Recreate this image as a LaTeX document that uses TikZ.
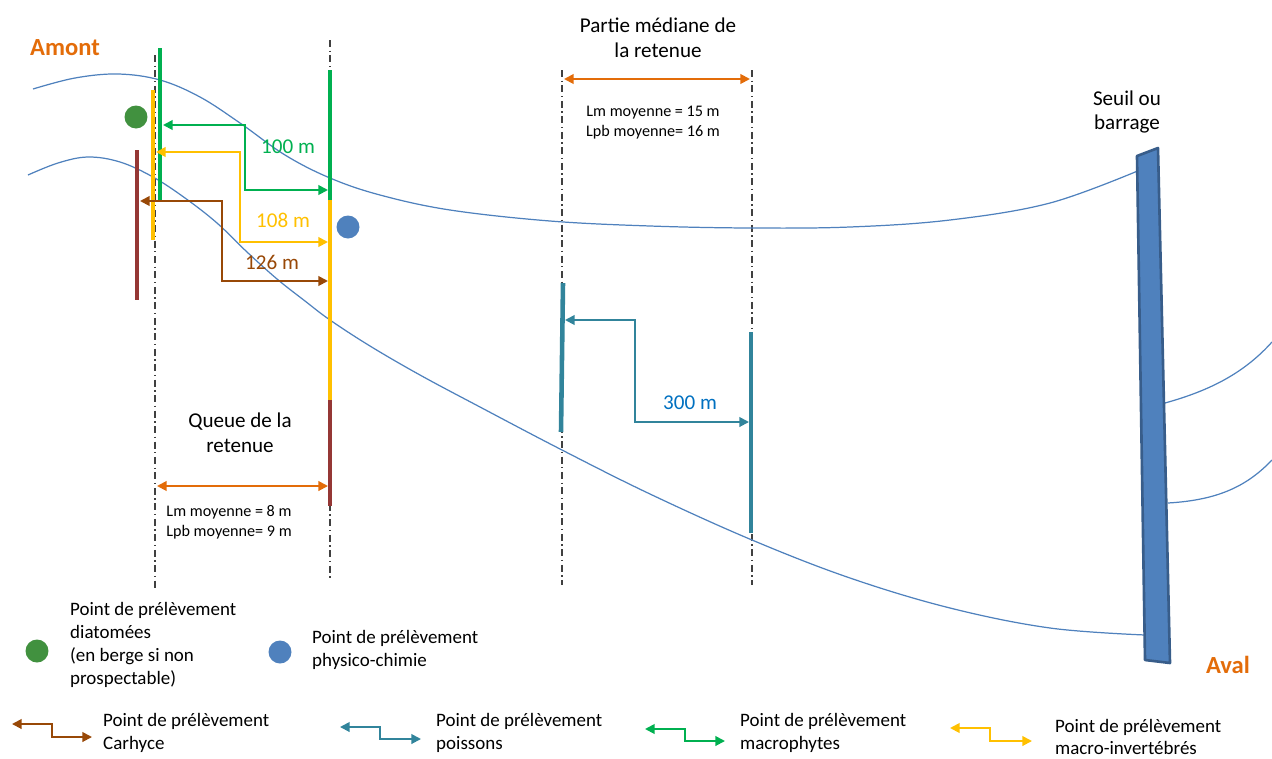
\documentclass[tikz,border=0pt]{standalone}
\usepackage{fontspec}
\setmainfont{Carlito}
\usetikzlibrary{arrows.meta}
\definecolor{RiverBlue}{HTML}{4F81BD}
\definecolor{DamEdge}{HTML}{385D8A}
\definecolor{MacroGreen}{HTML}{00B050}
\definecolor{InvYellow}{HTML}{FFC000}
\definecolor{CarRed}{HTML}{953735}
\definecolor{CarBrown}{HTML}{984807}
\definecolor{FishTeal}{HTML}{31849B}
\definecolor{DistBlue}{HTML}{0070C0}
\definecolor{ZoneOrange}{HTML}{E36C09}
\definecolor{DiatGreen}{HTML}{41913F}
\definecolor{AxisGrey}{HTML}{404040}

\begin{document}
\begin{tikzpicture}[x=0.02cm, y=-0.02cm,
    >={Stealth[inset=0pt, length=5.5pt, width=5.5pt]},
    axe/.style={AxisGrey, line width=0.6pt, dash pattern=on 4pt off 2pt on 0.8pt off 2pt},
    bank/.style={RiverBlue, line width=0.7pt},
    bar/.style={line width=2.6pt},
    steparrow/.style={<->, line width=1.1pt},
    dimline/.style={<->, ZoneOrange, line width=1.1pt},
    dot/.style={circle, inner sep=0pt, minimum width=0.46cm, minimum height=0.43cm},
    legtext/.style={anchor=west, align=left, font=\fontsize{10.8}{13}\selectfont},
    bigtext/.style={align=center, font=\fontsize{12}{14.2}\selectfont},
    smalltext/.style={align=center, font=\fontsize{9.2}{11.3}\selectfont}]
    \useasboundingbox (0,0) rectangle (1272,758);
    \draw[axe] (155,55) -- (155,590);
    \draw[axe] (330,40) -- (330,580);
    \draw[axe] (562,70) -- (562,585);
    \draw[axe] (752,70) -- (752,585);
    \draw[bank] plot[smooth, tension=0.6] coordinates {(33,89) (75,78) (118,74) (160,80) (200,97) (240,123) (285,155) (330,178) (380,195) (450,210) (550,221) (650,226) (750,228) (850,227) (950,220) (1050,203) (1140,170)};
    \draw[bank] plot[smooth, tension=0.6] coordinates {(28,175) (58,163) (88,157) (120,162) (153,177) (185,198) (217,223) (247,252) (277,279) (305,301) (330,320) (370,346) (420,375) (480,407) (562,450) (650,494) (752,540) (850,578) (950,608) (1050,628) (1145,635)};
    \draw[bank] (1165,403) .. controls (1212,390) and (1245,372) .. (1272,342);
    \draw[bank] (1168,503) .. controls (1220,500) and (1248,485) .. (1272,460);
    \draw[fill=RiverBlue, draw=DamEdge, line width=1.5pt, line join=round] (1137,156) -- (1158,148) -- (1170,663) -- (1145,660) -- cycle;
    \draw[bar, MacroGreen] (160,48) -- (160,200);
    \draw[bar, InvYellow] (153,90) -- (153,240);
    \draw[bar, CarRed] (137,150) -- (137,300);
    \draw[bar, MacroGreen] (330,70) -- (330,200);
    \draw[bar, InvYellow] (330,200) -- (330,400);
    \draw[bar, CarRed] (330,400) -- (330,506);
    \draw[bar, FishTeal] (563,283) -- (561,432);
    \draw[bar, FishTeal] (751,332) -- (751,533);
    \node[dot, fill=DiatGreen] (diatDot) at (136,117) {};
    \node[dot, fill=RiverBlue] (physDot) at (348,227) {};
    \draw[steparrow, MacroGreen] (163,125) -| (245,190) -- (328,190);
    \draw[steparrow, InvYellow] (156,152) -| (240,242) -- (328,242);
    \draw[steparrow, CarBrown] (140,201) -| (222,281) -- (328,281);
    \draw[steparrow, FishTeal] (565,320) -| (635,422) -- (749,422);
    \node[bigtext, MacroGreen] (d100) at (288,147) {100 m};
    \node[bigtext, InvYellow] (d108) at (283,220) {108 m};
    \node[bigtext, CarBrown] (d126) at (272,262) {126 m};
    \node[bigtext, DistBlue] (d300) at (690,403) {300 m};
    \draw[dimline] (564,79) -- (750,79);
    \draw[dimline] (157,486) -- (328,486);
    \node[bigtext] (mediane) at (658,38) {Partie médiane de\\la retenue};
    \node[smalltext] (lmMed) at (653,123) {Lm moyenne = 15 m\\Lpb moyenne= 16 m};
    \node[bigtext] (queue) at (240,433) {Queue de la\\retenue};
    \node[smalltext] (lmQueue) at (229,522) {Lm moyenne = 8 m\\Lpb moyenne= 9 m};
    \node[ZoneOrange, font=\fontsize{14}{16}\selectfont\bfseries] (amont) at (65,48) {Amont};
    \node[ZoneOrange, font=\fontsize{14}{16}\selectfont\bfseries] (aval) at (1228,665) {Aval};
    \node[bigtext] (seuil) at (1127,112) {Seuil ou\\barrage};
    \node[dot, fill=DiatGreen] (legDiat) at (37,651) {};
    \node[legtext] (txtDiat) at (64,645) {Point de prélèvement\\diatomées\\(en berge si non\\prospectable)};
    \node[dot, fill=RiverBlue] (legPhys) at (280,652) {};
    \node[legtext] (txtPhys) at (306,650) {Point de prélèvement\\physico-chimie};
    \draw[steparrow, CarBrown] (12,724) -| (52,737) -- (92,737);
    \node[legtext] (txtCar) at (97,733) {Point de prélèvement\\Carhyce};
    \draw[steparrow, FishTeal] (340,727) -| (380,739) -- (421,739);
    \node[legtext] (txtFish) at (430,733) {Point de prélèvement\\poissons};
    \draw[steparrow, MacroGreen] (645,729) -| (685,741) -- (725,741);
    \node[legtext] (txtMacro) at (734,733) {Point de prélèvement\\macrophytes};
    \draw[steparrow, InvYellow] (950,728) -| (990,741) -- (1032,741);
    \node[legtext] (txtInv) at (1049,737) {Point de prélèvement\\macro-invertébrés};
\end{tikzpicture}
\end{document}
